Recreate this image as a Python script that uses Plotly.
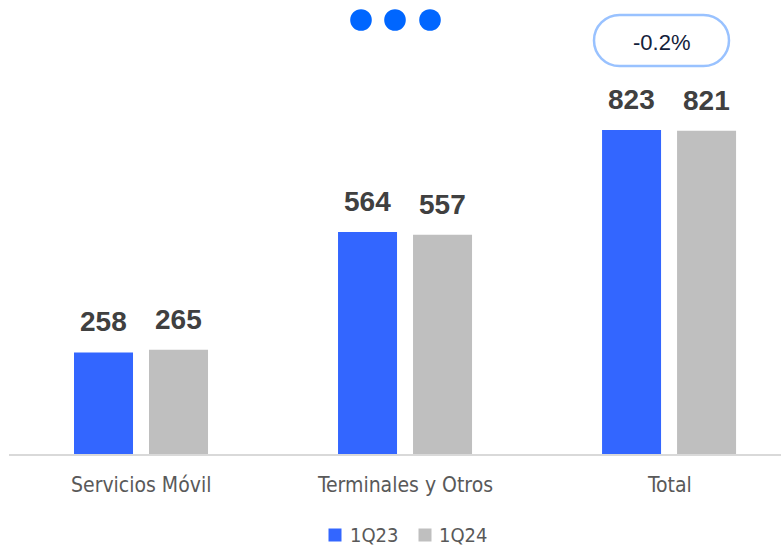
import plotly.graph_objects as go

categories = ["Servicios Móvil", "Terminales y Otros", "Total"]
series_names = ["1Q23", "1Q24"]
values_1q23 = [258, 564, 823]
values_1q24 = [265, 557, 821]
badge_text = "-0.2%"

BLUE = "#3366FF"
GRAY = "#BFBFBF"
W, H = 781, 547
ML, MR, MT, MB = 9, 0, 60, 93
PW = W - ML - MR
PH = H - MT - MB
XMAX = 2.424
UNIT_PX = PW / (XMAX + 0.5)

LABEL_FONT = "DejaVu Sans Condensed, Liberation Sans Narrow, Roboto, sans-serif"

def px2paper(px, py):
    return (px - ML) / PW, (H - MB - py) / PH

fig = go.Figure()
bar_w = 0.2235
offsets = [-0.2538, 0.0303]
colors = [BLUE, GRAY]
for name, vals, off, col in zip(series_names, [values_1q23, values_1q24], offsets, colors):
    fig.add_trace(go.Bar(x=categories, y=vals, name=name, width=bar_w, offset=off,
                         marker=dict(color=col, line=dict(width=0)), hoverinfo="x+y+name"))

ann = []
for vals, off in zip([values_1q23, values_1q24], offsets):
    shift = (off + bar_w / 2) * UNIT_PX
    for c, v in zip(categories, vals):
        ann.append(dict(x=c, y=v, xref="x", yref="y", text=str(v), showarrow=False,
                        xshift=shift, yshift=30.5, yanchor="middle",
                        font=dict(family="Liberation Sans, Arial, sans-serif", size=28,
                                  color="#404040", weight="bold")))
for c in categories:
    ann.append(dict(x=c, y=0, xref="x", yref="paper", text=c, showarrow=False,
                    yshift=-31, yanchor="middle",
                    font=dict(family=LABEL_FONT, size=21, color="#595959")))

# badge text
bx, by = px2paper(661, 42.5)
ann.append(dict(x=bx, y=by, xref="paper", yref="paper", text=badge_text, showarrow=False,
                xanchor="center", yanchor="middle",
                font=dict(family="Liberation Sans, Arial, sans-serif", size=22, color="#13213A")))

shapes = []
# three decorative dots
for cx in [361, 395, 430]:
    x0, y0 = px2paper(cx - 10.8, 20 + 10.8)
    x1, y1 = px2paper(cx + 10.8, 20 - 10.8)
    shapes.append(dict(type="circle", xref="paper", yref="paper", x0=x0, y0=y0, x1=x1, y1=y1,
                       fillcolor="#0066FF", line=dict(width=0)))

# pill badge
x0p, x1p, y0p, y1p = 594, 729, 15, 66
r = (y1p - y0p) / 2
k = 0.5523 * r
pts = [
    ("M", [(x0p + r, y0p)]),
    ("L", [(x1p - r, y0p)]),
    ("C", [(x1p - r + k, y0p), (x1p, y0p + r - k), (x1p, y0p + r)]),
    ("C", [(x1p, y0p + r + k), (x1p - r + k, y1p), (x1p - r, y1p)]),
    ("L", [(x0p + r, y1p)]),
    ("C", [(x0p + r - k, y1p), (x0p, y0p + r + k), (x0p, y0p + r)]),
    ("C", [(x0p, y0p + r - k), (x0p + r - k, y0p), (x0p + r, y0p)]),
]
path = ""
for cmd, ps in pts:
    path += cmd + " ".join("%.5f,%.5f" % px2paper(a, b) for a, b in ps) + " "
path += "Z"
shapes.append(dict(type="path", xref="paper", yref="paper", path=path,
                   fillcolor="rgba(0,0,0,0)", line=dict(color="#99C2FF", width=2.5), layer="above"))

# manual legend (square marker + label per series)
leg_y = 535
for name, col, sx, tx in zip(series_names, colors, [328.5, 418.5], [349, 438]):
    lx0, ly0 = px2paper(sx, leg_y + 6.5)
    lx1, ly1 = px2paper(sx + 13, leg_y - 6.5)
    shapes.append(dict(type="rect", xref="paper", yref="paper", x0=lx0, y0=ly0, x1=lx1, y1=ly1,
                       fillcolor=col, line=dict(width=0)))
    tpx, tpy = px2paper(tx, leg_y)
    ann.append(dict(x=tpx, y=tpy, xref="paper", yref="paper", text=name, showarrow=False,
                    xanchor="left", yanchor="middle", borderpad=0,
                    font=dict(family=LABEL_FONT, size=20, color="#595959")))

ymax = PH / (324 / 823)
fig.update_layout(
    width=W, height=H, margin=dict(l=ML, r=MR, t=MT, b=MB, pad=0),
    paper_bgcolor="white", plot_bgcolor="white",
    barmode="overlay",
    xaxis=dict(range=[-0.5, XMAX], showticklabels=False, showgrid=False, zeroline=False,
               showline=True, linecolor="#D9D9D9", linewidth=2, ticks="", fixedrange=True),
    yaxis=dict(range=[0, ymax], visible=False, showgrid=False, zeroline=False, fixedrange=True),
    showlegend=False,
    annotations=ann, shapes=shapes,
)
fig.write_html("out.html", config={"displayModeBar": False},
               post_script="document.body.style.margin='0';")
